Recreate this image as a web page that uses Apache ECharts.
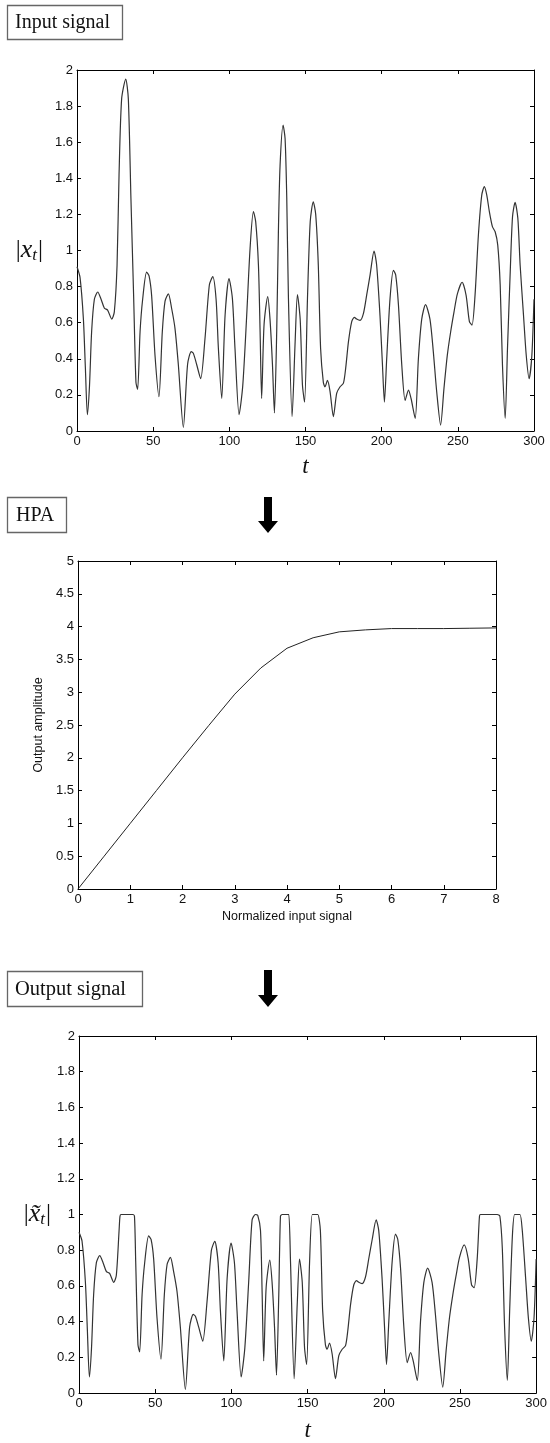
<!DOCTYPE html>
<html>
<head>
<meta charset="utf-8">
<script src="https://cdn.jsdelivr.net/npm/echarts@6/dist/echarts.min.js"></script>
<style>
  html, body { margin: 0; padding: 0; background: #fff; }
  #chart { width: 550px; height: 1443px; }
</style>
</head>
<body>
<div id="chart"></div>
<script>
// Input signal magnitude |x_t| over time
const tInput = [0,2,4.2,5.5,6.8,8.2,9.6,11.4,13.6,15.8,18,20.1,22.8,24.5,26.3,27.6,29.3,32,33.7,35.4,37.2,38.7,39.8,41.4,43.1,45.7,47.3,49,51.2,53.8,56,57.8,60,62.1,64.3,66.5,69.8,72.6,75,76.4,78.5,81.2,84,86.9,89.1,91.3,92.8,95,97.2,99.8,102,103.7,106.4,108.8,111.4,113.6,115.8,117.3,119.1,120.2,121.2,122.8,125.2,126.7,128.3,129.6,131.1,132.2,133.3,135.3,136.6,137.7,138.8,141.2,143.2,144.7,146.5,148,149.4,151.3,153.1,155.1,156.7,158.4,159.9,161.7,162.8,164.4,166.1,168.3,170.5,172.7,174.9,176.4,178.2,180.3,182.1,183.6,185.8,188,190.2,192.4,195,196.7,198.9,200.5,201.8,203.3,205.5,207.7,209.2,211,213.2,215.4,217.6,219.3,222,224.1,226.3,228.8,231.7,233.9,236.1,238.7,240.9,243.1,245.3,247.5,249.7,252.8,255.4,257.6,259.3,261.3,263.5,265.7,267.4,269,270.7,272.7,274.5,276.2,277.8,279.3,281.1,282.6,284.4,285.9,287.6,289.4,290.9,293.1,294.9,296.8,298.6,300];
const xInput = [0.91,0.85,0.62,0.35,0.09,0.25,0.55,0.73,0.77,0.73,0.68,0.67,0.62,0.66,0.92,1.42,1.84,1.95,1.84,1.29,0.74,0.27,0.23,0.55,0.73,0.88,0.86,0.75,0.42,0.19,0.55,0.72,0.76,0.68,0.57,0.37,0.02,0.37,0.44,0.43,0.37,0.29,0.51,0.81,0.855,0.73,0.46,0.18,0.64,0.845,0.735,0.46,0.09,0.25,0.64,1.01,1.215,1.16,0.92,0.55,0.18,0.59,0.745,0.62,0.37,0.10,0.55,1.10,1.47,1.695,1.62,1.29,0.735,0.08,0.495,0.755,0.62,0.255,0.16,0.735,1.16,1.27,1.20,0.92,0.46,0.27,0.245,0.28,0.22,0.08,0.21,0.245,0.265,0.35,0.495,0.605,0.63,0.62,0.613,0.65,0.755,0.865,0.997,0.92,0.64,0.37,0.16,0.40,0.735,0.89,0.865,0.70,0.366,0.17,0.227,0.18,0.07,0.40,0.62,0.70,0.62,0.44,0.22,0.033,0.236,0.42,0.55,0.66,0.76,0.824,0.753,0.606,0.587,0.753,1.086,1.307,1.354,1.307,1.215,1.132,1.104,1.03,0.81,0.366,0.07,0.458,0.883,1.187,1.267,1.178,0.92,0.643,0.42,0.29,0.42,0.73];

// HPA transfer curve: normalized input vs output amplitude
const hpaInput  = [0,0.5,1,1.5,2,2.5,3,3.5,4,4.5,5,5.5,6,6.5,7,7.5,8];
const hpaOutput = [0,0.5,1,1.5,2,2.49,2.97,3.37,3.67,3.83,3.92,3.95,3.97,3.97,3.97,3.975,3.98];

// Output signal magnitude after the amplifier
const tOutput = [0,2,4.2,5.5,6.8,8.2,9.6,11.4,13.6,15.8,18,20.1,22.8,24.5,26.3,26.9,27.6,29.3,32,33.7,35.4,36.4,37.2,38.7,39.8,41.4,43.1,45.7,47.3,49,51.2,53.8,56,57.8,60,62.1,64.3,66.5,69.8,72.6,75,76.4,78.5,81.2,84,86.9,89.1,91.3,92.8,95,97.2,99.8,102,103.7,106.4,108.8,111.4,113.6,115.8,117.3,119.1,120.2,121.2,122.8,125.2,126.7,128.3,129.6,131.1,132.2,133.3,135.3,136.6,137.7,138.8,141.2,143.2,144.7,146.5,148,149.4,151.3,153.1,155.1,156.7,158.4,159.9,161.7,162.8,164.4,166.1,168.3,170.5,172.7,174.9,176.4,178.2,180.3,182.1,183.6,185.8,188,190.2,192.4,195,196.7,198.9,200.5,201.8,203.3,205.5,207.7,209.2,211,213.2,215.4,217.6,219.3,222,224.1,226.3,228.8,231.7,233.9,236.1,238.7,240.9,243.1,245.3,247.5,249.7,252.8,255.4,257.6,259.3,261.3,262.8,263.5,265.7,267.4,269,270.7,272.7,274.5,276.2,277.8,279.3,281.1,282.6,284.4,285.9,287.6,289.4,290.9,293.1,294.9,296.8,298.6,300];
const xOutput = [0.90,0.85,0.62,0.35,0.09,0.25,0.55,0.73,0.77,0.73,0.68,0.67,0.62,0.66,0.91,0.99,1.0,1.0,1.0,1.0,1.0,0.99,0.74,0.27,0.23,0.55,0.73,0.88,0.86,0.75,0.42,0.19,0.55,0.72,0.76,0.68,0.57,0.37,0.02,0.37,0.44,0.43,0.37,0.29,0.51,0.80,0.85,0.73,0.46,0.18,0.64,0.84,0.73,0.46,0.09,0.25,0.63,0.97,1.0,0.995,0.91,0.55,0.18,0.59,0.745,0.62,0.37,0.10,0.55,0.99,1.0,1.0,1.0,1.0,0.735,0.08,0.495,0.75,0.62,0.255,0.16,0.73,1.0,1.0,1.0,0.91,0.46,0.27,0.245,0.28,0.22,0.08,0.21,0.245,0.265,0.35,0.495,0.605,0.63,0.62,0.613,0.65,0.755,0.86,0.97,0.91,0.64,0.37,0.16,0.40,0.735,0.89,0.86,0.70,0.366,0.17,0.227,0.18,0.07,0.40,0.62,0.70,0.62,0.44,0.22,0.033,0.236,0.42,0.55,0.66,0.76,0.83,0.753,0.606,0.59,0.75,0.99,1.0,1.0,1.0,1.0,1.0,1.0,1.0,0.99,0.81,0.366,0.07,0.458,0.88,1.0,1.0,1.0,0.91,0.643,0.42,0.29,0.42,0.75];

// Tick settings
const timeTicks = { min: 0, max: 300, interval: 50 };
const magTicks  = { min: 0, max: 2, interval: 0.2 };
const hpaXTicks = { min: 0, max: 8, interval: 1 };
const hpaYTicks = { min: 0, max: 5, interval: 0.5 };

const zip = (a, b) => a.map((v, i) => [v, b[i]]);

const chart = echarts.init(document.getElementById('chart'), null, { renderer: 'canvas' });

const labelFont = { fontFamily: 'Liberation Sans, Arial, sans-serif', fontSize: 13, color: '#111' };
const lineCol = '#000';

function frameAxes(gridIndex, ticks, labelled, pos, extra) {
  return Object.assign({
    type: 'value',
    gridIndex,
    position: pos,
    min: ticks.min, max: ticks.max, interval: ticks.interval,
    axisLine: { show: true, onZero: false, lineStyle: { color: lineCol, width: 1 } },
    axisTick: { show: true, inside: true, length: 4, lineStyle: { color: lineCol, width: 1 } },
    axisLabel: Object.assign({ show: labelled, margin: 4 }, labelFont),
    splitLine: { show: false }
  }, extra || {});
}

const mathRich = {
  n: { fontFamily: 'Liberation Serif, serif', fontSize: 25, color: '#111' },
  i: { fontFamily: 'Liberation Serif, serif', fontStyle: 'italic', fontSize: 26, color: '#111' },
  s: { fontFamily: 'Liberation Serif, serif', fontStyle: 'italic', fontSize: 17, color: '#111', padding: [11, 1, 0, 0] }
};

const tName = { fontFamily: 'Liberation Serif, serif', fontStyle: 'italic', fontSize: 23, color: '#111' };
const sansName = { fontFamily: 'Liberation Sans, Arial, sans-serif', fontSize: 12.5, color: '#111' };

const option = {
  animation: false,
  backgroundColor: '#fff',
  grid: [
    { left: 77, top: 70, width: 457, height: 361 },
    { left: 78, top: 561, width: 418, height: 328 },
    { left: 79, top: 1036, width: 459, height: 361 }
  ],
  xAxis: [
    frameAxes(0, timeTicks, true, 'bottom', { name: 't', nameLocation: 'middle', nameGap: 24, nameTextStyle: tName }),
    frameAxes(0, timeTicks, false, 'top'),
    frameAxes(1, hpaXTicks, true, 'bottom', { name: 'Normalized input signal', nameLocation: 'middle', nameGap: 21, nameTextStyle: sansName }),
    frameAxes(1, hpaXTicks, false, 'top'),
    frameAxes(2, timeTicks, true, 'bottom', { name: 't', nameLocation: 'middle', nameGap: 26, nameTextStyle: tName }),
    frameAxes(2, timeTicks, false, 'top')
  ],
  yAxis: [
    frameAxes(0, magTicks, true, 'left', {
      name: '{n||}{i|x}{s|t}{n||}', nameLocation: 'middle', nameGap: 34, nameRotate: 0,
      nameTextStyle: { rich: mathRich }
    }),
    frameAxes(0, magTicks, false, 'right'),
    frameAxes(1, hpaYTicks, true, 'left', { name: 'Output amplitude', nameLocation: 'middle', nameGap: 30, nameTextStyle: sansName }),
    frameAxes(1, hpaYTicks, false, 'right'),
    frameAxes(2, magTicks, true, 'left', {
      name: '{n||}{i|x\u0303}{s|t}{n||}', nameLocation: 'middle', nameGap: 26, nameRotate: 0,
      nameTextStyle: { rich: mathRich }
    }),
    frameAxes(2, magTicks, false, 'right')
  ],
  series: [
    {
      type: 'line', xAxisIndex: 0, yAxisIndex: 0,
      data: zip(tInput, xInput),
      showSymbol: false, smooth: 0.25,
      lineStyle: { color: '#333', width: 1.2 }
    },
    {
      type: 'line', xAxisIndex: 2, yAxisIndex: 2,
      data: zip(hpaInput, hpaOutput),
      showSymbol: false, smooth: false,
      lineStyle: { color: '#222', width: 1 }
    },
    {
      type: 'line', xAxisIndex: 4, yAxisIndex: 4,
      data: zip(tOutput, xOutput),
      showSymbol: false, smooth: 0.25,
      lineStyle: { color: '#333', width: 1.2 }
    }
  ],
  graphic: [
    // stage labels
    { type: 'rect', shape: { x: 7.5, y: 5.5, width: 115, height: 34 }, style: { fill: '#fff', stroke: '#666', lineWidth: 1.3 } },
    { type: 'text', x: 15, y: 22.5, style: { text: 'Input signal', fontFamily: 'Liberation Serif, serif', fontSize: 20, fill: '#111', textVerticalAlign: 'middle' } },
    { type: 'rect', shape: { x: 7.5, y: 497.5, width: 59, height: 35 }, style: { fill: '#fff', stroke: '#666', lineWidth: 1.3 } },
    { type: 'text', x: 16, y: 515.5, style: { text: 'HPA', fontFamily: 'Liberation Serif, serif', fontSize: 20, fill: '#111', textVerticalAlign: 'middle' } },
    { type: 'rect', shape: { x: 7.5, y: 971.5, width: 135, height: 35 }, style: { fill: '#fff', stroke: '#666', lineWidth: 1.3 } },
    { type: 'text', x: 15, y: 989.5, style: { text: 'Output signal', fontFamily: 'Liberation Serif, serif', fontSize: 20.5, fill: '#111', textVerticalAlign: 'middle' } },
    // flow arrows
    { type: 'polygon', shape: { points: [[264,497],[272,497],[272,521],[278,521],[268,533],[258,521],[264,521]] }, style: { fill: '#000' } },
    { type: 'polygon', shape: { points: [[264,970],[272,970],[272,995],[278,995],[268,1007],[258,995],[264,995]] }, style: { fill: '#000' } }
  ]
};

chart.setOption(option);
</script>
</body>
</html>
